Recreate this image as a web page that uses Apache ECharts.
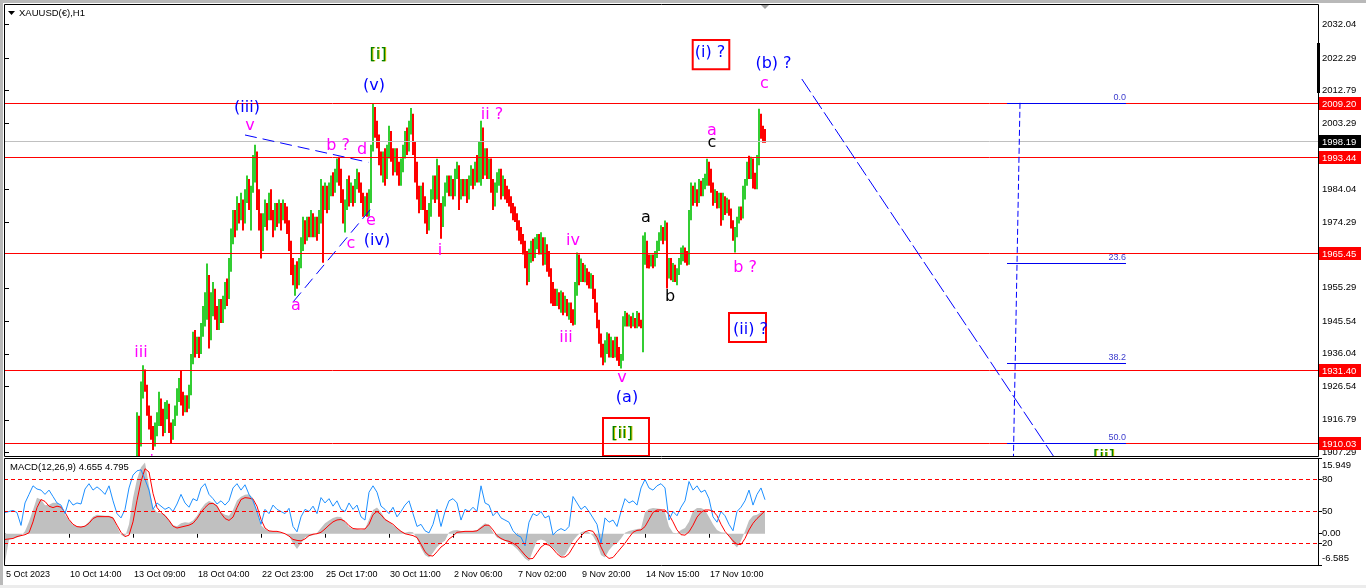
<!DOCTYPE html>
<html><head><meta charset="utf-8">
<script src="https://cdn.jsdelivr.net/npm/echarts@6/dist/echarts.min.js"></script>
<style>html,body{margin:0;padding:0;background:#fff;}#c{width:1366px;height:588px;}</style>
</head><body><div id="c"></div><script>
const symbolTitle = 'XAUUSD(€),H1';
const macdTitle = 'MACD(12,26,9) 4.655 4.795';
const timeLabels = ['5 Oct 2023','10 Oct 14:00','13 Oct 09:00','18 Oct 04:00','22 Oct 23:00','25 Oct 17:00','30 Oct 11:00','2 Nov 06:00','7 Nov 02:00','9 Nov 20:00','14 Nov 15:00','17 Nov 10:00'];
const timeLabelStep = 32;
const categoryCount = 657;
const firstBar = 66;
// [open, close, low, high]
const candles = [
[1897,1917,1895,1919],[1917,1910,1905,1918],[1910,1926,1909,1928],[1925,1930,1923,1932.7],[1930,1926,1925,1931.5],
[1926,1920,1918,1927],[1920,1916,1914,1921],[1916,1913,1911,1918],[1913,1910,1908,1915],[1910,1914,1909,1916],
[1914,1917,1912,1919],[1917,1922,1915,1925],[1922,1918,1915,1923],[1918,1914,1912,1920],[1914,1920,1913,1922],
[1920,1921,1917,1922.5],[1921,1915,1913,1921.5],[1915,1912,1910,1916],[1912,1916,1911,1917],[1916,1920,1915,1921],
[1920,1924,1918,1926],[1924,1927,1922,1929],[1927,1923,1921,1931],[1923,1920,1918,1925],[1920,1922,1919,1924],
[1922,1921,1919,1924],[1921,1925,1920,1927],[1925,1935,1924,1936],[1935,1941,1933,1942.5],[1941,1938,1935,1943],
[1938,1939,1936,1941],[1939,1937,1934.8,1941],[1937,1942,1936,1945],[1942,1948,1941,1950],[1948,1952,1944,1954],
[1952,1960,1946,1962.4],[1958,1941,1937.6,1959],[1941,1950,1940,1954],[1950,1953,1947,1957],[1953,1948,1946,1955],
[1948,1944,1943,1950],[1944,1950,1943,1952],[1950,1946,1945,1952],[1946,1951,1945,1953],[1951,1955,1949,1957],
[1955,1953,1950,1958],[1953,1962,1952,1964],[1962,1970,1960,1972.6],[1970,1976,1968,1978],[1976,1973,1970,1978],
[1973,1979,1972,1982],[1979,1976,1974,1980],[1976,1980,1975,1983],[1980,1975,1972,1981],[1975,1982,1974,1984],
[1982,1986,1980,1988],[1986,1980,1978,1987],[1980,1984,1972,1985],[1984,1992,1983,1994],[1992,1994,1986,1997],
[1994,1982,1978,1995],[1982,1975,1972,1984],[1975,1968,1963.8,1977],[1968,1975,1966,1977],[1975,1979,1973,1981],
[1979,1976,1972,1980],[1976,1981,1975,1983],[1981,1976,1975,1984],[1976,1973,1970,1978],[1973,1978,1972,1980],
[1978,1975,1973,1980],[1975,1979,1974,1981],[1979,1976,1972,1980],[1976,1978,1975,1981],[1978,1977,1974,1980],
[1977,1973,1971,1979],[1973,1968,1966,1975],[1968,1962,1959,1969],[1962,1958,1956,1964],[1958,1960,1953,1962],
[1960,1957,1955,1963],[1957,1962,1956,1964],[1962,1968,1961,1970],[1968,1973,1966,1976],[1973,1970,1968,1975],
[1970,1974,1969,1976],[1974,1971,1970,1976],[1971,1976,1970,1978],[1976,1972,1970,1977],[1972,1975,1970,1976],
[1975,1972,1969,1976],[1972,1976,1971,1978],[1976,1984,1974,1987],[1984,1979,1962.6,1985],[1979,1984,1978,1986],
[1984,1979,1977,1985],[1979,1984,1978,1986],[1984,1987,1982,1988],[1987,1984,1982,1989],[1984,1989,1983,1990],
[1989,1991,1986,1993],[1991,1988,1985,1993.5],[1988,1982,1980,1990],[1982,1976,1974,1984],[1976,1980,1971.4,1981],
[1980,1985,1978,1987],[1985,1981,1979,1988],[1981,1983,1980,1986],[1983,1981,1979,1985],[1981,1985,1980,1987],
[1985,1988,1984,1990],[1988,1984,1983,1989],[1984,1982,1980,1986],[1982,1978,1976,1983],[1978,1980,1976.3,1982],
[1980,1977,1976,1983],[1977,1982,1976,1984],[1982,1996,1980,1997],[1996,2006,1995,2008.9],[2006,2001,1999,2008],
[2001,1998,1996,2004],[1998,1993,1991,2000],[1993,1990,1988,1995],[1990,1993,1986,1995],[1993,1988,1985,1996],
[1988,1995,1987,1997],[1995,2000,1993,2002.5],[2000,1994,1992,2001],[1994,1990,1988,1996],[1990,1994,1989,1996],
[1994,1990,1988,1996],[1990,1987,1985,1992],[1987,1991,1985,1993],[1991,1995,1989,1997],[1995,1999,1993,2001],
[1999,1996,1994,2002],[1996,2002,1995,2004],[2002,2005,2000,2007.7],[2005,1996,1994,2006],[1996,1988,1986,1998],
[1988,1983,1981,1992],[1983,1979,1977,1985],[1979,1983,1978,1985],[1983,1980,1978,1986],[1980,1976,1974,1982],
[1976,1973,1971,1978],[1973,1978,1972,1980],[1978,1982,1976,1984],[1982,1986,1981,1988],[1986,1982,1980,1988],
[1982,1990,1981,1992.9],[1990,1978,1976,1991],[1978,1974,1969.6,1980],[1974,1980,1973,1982],[1980,1984,1979,1986],
[1984,1986,1983,1988],[1986,1983,1982,1988],[1983,1986,1982,1988],[1986,1983,1981,1987],[1983,1988,1982,1990],
[1988,1990,1987,1992],[1990,1982,1978,1991],[1982,1986,1981,1987],[1986,1984,1982,1987],[1984,1985,1982,1987],
[1985,1982,1980,1987],[1982,1986,1981,1988],[1986,1989,1985,1991],[1989,1986,1984,1990],[1986,1990,1985,1992],
[1990,1988,1986,1994],[1988,1996,1986,1998],[1996,2000,1985,2004],[2000,1990,1987,2002],[1990,1994,1988,1996],
[1994,1989,1987,1996],[1989,1992,1987,1993],[1992,1985,1983,1993],[1985,1980,1978,1987],[1980,1984,1979,1986],
[1984,1988,1983,1989],[1988,1989,1985,1990],[1989,1983,1981,1990],[1983,1986,1982,1988],[1986,1983,1981,1987],
[1983,1981,1980,1985],[1981,1980,1979,1984],[1980,1978,1977,1982],[1978,1976,1975,1980],[1976,1975,1974.5,1979],
[1975,1973,1972,1977],[1973,1970,1969,1975],[1970,1969,1968,1973],[1969,1966,1965,1971],[1966,1962,1961,1969],
[1962,1958,1956,1966],[1958,1964,1957,1966.7],[1964,1967,1962.6,1969],[1967,1965,1963,1969.6],[1965,1968,1964,1970],
[1968,1969,1966.5,1971],[1969,1966,1965,1971],[1966,1969,1965,1971.5],[1969,1963,1961.8,1970],[1963,1967,1962,1970],
[1967,1962,1960,1968],[1962,1959,1958.5,1966],[1959,1955,1950.7,1961],[1955,1952,1950,1957],[1952,1951,1950,1955],
[1951,1953,1950,1955],[1953,1950,1949,1954],[1950,1953,1948,1954.5],[1953,1950,1947.3,1954],[1950,1951,1948,1953],
[1951,1948,1947,1952],[1948,1950,1946,1951],[1950,1946,1945,1951],[1946,1945,1944.3,1949],[1945,1955,1944.5,1957],
[1955,1962,1953,1965.6],[1962,1958,1956,1965],[1958,1961,1957,1963.8],[1961,1958,1957,1962.5],[1958,1960,1956.9,1962],
[1960,1958,1956,1961],[1958,1956,1955.1,1960],[1956,1958,1955,1959.5],[1958,1953,1952,1959],[1953,1949,1948,1955],
[1949,1945,1943.5,1951],[1945,1941,1939,1946],[1941,1937,1935,1942],[1937,1934,1932.7,1939],[1934,1938,1933.5,1940],
[1938,1941,1936,1942.3],[1941,1937,1935,1942],[1937,1939,1935,1941],[1939,1936,1934.8,1940],[1936,1939,1935,1941],
[1939,1936,1934,1941],[1936,1933,1932.5,1938],[1933,1935,1931.8,1936],[1935,1945,1934,1947],[1945,1947,1944,1948.5],
[1947,1945,1944,1948],[1945,1946,1944,1947.5],[1946,1944.5,1943.5,1947],[1944.5,1946,1944,1948],[1946,1944,1943.5,1946.5],
[1944,1947,1943.5,1948.5],[1947,1945,1944,1948],[1945,1944,1943.5,1946],[1944,1966,1936.5,1970.5],[1966,1968,1962,1971.5],
[1968,1963,1961,1969],[1963,1962,1960.9,1965],[1962,1964,1961.5,1965],[1964,1962,1961,1965],[1962,1964.7,1961.5,1966],
[1964.7,1968,1964,1969],[1968,1970,1966,1971.5],[1970,1972,1969,1973.5],[1972,1970,1968,1973],[1970,1973,1969,1974.9],
[1973,1960,1955.1,1974.3],[1960,1963,1958,1964],[1963,1959,1957.5,1964],[1959,1961,1957,1962.5],[1961,1958,1957,1962],
[1958,1960,1956,1961],[1960,1963,1959,1964],[1963,1965,1962,1967],[1965,1966,1963,1967.6],[1966,1964,1962.6,1967],
[1964,1963,1961.8,1966],[1963,1976,1962,1978],[1976,1984,1975,1986],[1984,1981,1979.2,1985],[1981,1983,1980,1986],
[1983,1981,1979,1984],[1981,1985,1980,1987],[1985,1983,1982,1986.5],[1983,1986,1982,1987.3],[1986,1987,1984,1988.5],
[1987,1991,1985,1992.9],[1991,1986,1985,1992],[1986,1984.2,1983,1990],[1984.2,1981,1979.2,1986],[1981,1983,1980,1984],
[1983,1980,1978.4,1983.5],[1980,1982,1978.5,1983],[1982,1976,1973.4,1983],[1976,1981,1975,1983],[1981,1978,1976.5,1982],
[1978,1980,1977,1981.5],[1980,1977,1976.3,1981],[1977,1974,1972.6,1978.4],[1974,1971,1969,1975],[1971,1972,1965.6,1973],
[1972,1975,1970,1976],[1975,1978,1974,1979],[1978,1976,1975,1979],[1976,1983,1975.5,1985],[1983,1986,1981,1987],
[1986,1990,1985,1992],[1990,1988,1987,1993.8],[1988,1992,1987,1993.5],[1992,1986,1984.2,1993],[1986,1985,1984,1988.8],
[1985,1992,1984,1994],[1992,2005,1991,2007.5],[2005,2001,1998.7,2006],[2001,1999.5,1997.6,2002.5],[1999.5,1998.19,1997.6,2001.6]
];
const priceTicks = [2032.04,2022.29,2012.79,2003.29,1984.04,1974.29,1955.29,1945.54,1936.04,1926.54,1916.79,1907.29];
const levelLines = [2009.20,1993.44,1965.45,1931.40,1910.03];
const currentPrice = 1998.19;
const macdStep = 2;
const macdHist = [
-6.0,-1.2,-1.0,-0.8,-0.4,0.5,2.5,5.0,7.6,7.2,
6.0,6.1,6.5,6.5,5.8,4.0,2.9,1.9,1.6,1.5,
1.7,2.6,3.6,4.0,3.9,3.8,3.8,3.5,1.5,-0.2,
-0.7,2.0,7.5,11.5,14.0,15.0,10.0,5.5,4.5,4.3,
4.0,3.0,1.8,1.6,2.2,2.4,2.3,2.8,3.8,5.2,
6.3,6.9,6.6,6.0,4.5,4.0,3.8,5.0,7.0,7.8,
8.2,8.3,7.5,4.5,1.8,1.0,0.6,0.5,0.4,0.2,
0.1,-0.5,-2.0,-3.2,-2.0,-0.8,-0.5,-0.3,0.2,1.2,
2.2,2.8,3.3,3.6,3.5,2.5,1.4,1.0,1.0,0.8,
1.0,3.0,5.0,5.5,4.5,3.2,2.5,1.8,1.2,0.5,
0.2,0.4,0.3,-1.0,-3.0,-4.5,-5.0,-4.0,-2.8,-2.0,
-1.5,0.3,0.7,0.8,0.6,0.5,0.5,0.6,0.8,1.5,
2.2,1.8,0.3,-0.8,-1.2,-1.5,-2.0,-2.5,-3.2,-4.2,
-5.2,-5.8,-3.5,-1.5,-1.2,-1.5,-2.5,-3.0,-3.8,-4.8,
-4.5,-3.0,-1.5,-0.5,0.3,0.6,0.3,-0.5,-2.0,-4.5,
-5.0,-3.5,-2.5,-2.0,-1.0,0.2,0.6,0.8,1.0,1.1,
4.5,5.2,5.4,5.3,5.2,4.5,1.5,0.2,0.1,0.8,
1.2,2.5,4.8,5.4,5.4,5.0,3.5,2.0,0.8,0.3,
0.2,-0.5,-2.0,-2.9,-1.5,0.5,2.8,3.8,4.0,4.5,
4.66];
const macdSignal = [
-1.2,-1.1,-1.0,-0.6,-0.4,-0.2,0.2,2.5,5.5,7.2,
6.8,5.8,5.5,5.8,5.6,4.5,3.0,2.0,1.5,1.4,
1.6,2.2,3.2,3.6,3.6,3.6,3.6,3.3,1.8,0.3,
-0.6,-0.3,2.5,7.0,11.0,13.7,13.0,8.5,5.5,4.5,
3.8,2.8,1.6,1.2,1.4,1.6,1.8,2.2,3.2,4.5,
5.5,6.3,6.4,5.8,4.3,3.2,2.8,3.5,5.5,7.2,
7.6,7.5,7.3,5.8,3.0,1.2,0.6,0.5,0.5,0.3,
0.0,-0.5,-1.2,-1.4,-1.5,-1.1,-0.4,-0.1,0.0,0.3,
1.0,1.8,2.5,2.9,3.0,2.6,1.7,1.1,1.0,1.0,
1.0,2.0,4.0,4.7,4.0,3.0,2.5,2.0,1.2,0.5,
0.0,-0.2,-0.4,-0.8,-2.2,-3.8,-4.6,-4.7,-3.8,-2.8,
-2.2,-1.1,-0.5,0.3,0.4,0.5,0.5,0.5,0.6,1.2,
1.8,1.8,0.8,-0.4,-1.0,-1.4,-1.6,-2.0,-2.5,-3.5,
-4.5,-5.3,-5.2,-4.0,-2.8,-2.2,-2.4,-3.2,-4.2,-4.9,
-4.9,-4.2,-2.8,-1.5,-0.5,0.4,0.7,0.5,-0.8,-2.8,
-4.5,-5.2,-5.0,-4.0,-3.0,-2.0,-0.8,0.3,0.7,0.8,
1.5,3.0,4.5,5.0,5.0,5.0,4.0,2.5,0.8,-0.2,
-0.3,0.4,1.8,3.5,4.5,5.0,5.0,4.8,3.8,2.0,
0.5,-0.5,-1.5,-2.2,-2.3,-1.0,0.8,2.2,3.2,4.0,
4.8];
const oscLine = [
49,50,51,49,37,58,66,74,71,70,
66,70,64,58,56,48,61,56,58,57,
71,76,70,73,70,66,74,60,48,44,
52,72,84,88,89,80,70,52,58,55,
52,54,50,57,66,58,54,62,60,72,
76,66,62,57,60,56,60,72,76,70,
75,66,60,50,38,52,48,56,52,50,
48,53,36,31,45,52,50,55,48,63,
58,62,55,60,52,50,58,52,56,45,
42,68,74,68,55,52,48,54,45,50,
56,60,48,36,38,32,30,38,52,36,
50,60,62,58,42,52,50,54,50,74,
58,56,46,50,44,42,40,32,28,26,
18,40,48,46,50,44,46,28,32,34,
32,36,64,58,52,55,50,44,38,20,
44,40,42,36,50,62,58,60,56,72,
80,72,70,74,76,72,42,50,46,54,
60,78,70,74,68,70,62,45,40,50,
46,38,32,50,54,60,70,56,66,72,
61];
const oscLevels = [80,50,20];
const macdTicks = [15.949,0,-6.585];
const fibHigh = 2009.20, fibLow = 1810.86;
const fibLevels = [0,23.6,38.2,50.0];
const fibSpan = [501,560.5];
const fibAnchor = [[507.5,2009.20],[501.2,1810.86]];
const trendLines = [
  [[120,1999.83],[181.65,1991.87]],
  [[144.15,1951.24],[184.15,1979.13]],
  [[398.4,2016.15],[530,1901.17]]
];
// [text, bar index, price, colour key]
const annotations = [
 ['[i]',186.5,2023.15,'green'],['(v)',184.5,2014.11,'blue'],['(iii)',121,2007.7,'blue'],['v',122.5,2002.6,'magenta'],
 ['b ?',166.5,1996.6,'magenta'],['d',178.5,1995.5,'magenta'],['e',183,1974.8,'magenta'],['(iv)',186,1968.9,'blue'],
 ['c',173,1968.1,'magenta'],['a',145.5,1950.0,'magenta'],['i',217.5,1966.0,'magenta'],['ii ?',243.5,2005.66,'magenta'],
 ['iv',284,1968.9,'magenta'],['iii',280.5,1940.7,'magenta'],['v',308.5,1929.0,'magenta'],['(a)',311,1923.17,'blue'],
 ['[ii]',308.5,1912.7,'green'],['a',320.5,1975.6,'black'],['b',332.5,1952.6,'black'],['a',353.5,2001.0,'magenta'],
 ['c',353.5,1997.5,'black'],['b ?',370,1961.06,'magenta'],['(ii) ?',372.75,1943.0,'blue'],['(i) ?',352.5,2023.73,'blue'],
 ['(b) ?',384.25,2020.5,'blue'],['c',379.75,2014.8,'magenta'],['iii',68,1936.3,'magenta'],['iv',75.75,1904.5,'magenta'],
 ['[ii]',549.4,1906.0,'green']
];
// [bar1, price1, bar2, price2]
const boxes = [[343.85,2027.52,362.15,2018.98],[362,1947.94,380.5,1939.49],[299,1917.34,322,1906.26]];

const annColors = {green:'#008000', blue:'#0000ff', magenta:'#ff00ff', black:'#000000'};
const AX_FONT = 'Liberation Sans';
const GRID_LEFT = 4, GRID_W = categoryCount * 2;
const isLabelIdx = (idx) => idx % timeLabelStep === 0 && idx / timeLabelStep < timeLabels.length;
const cats = Array.from({length: categoryCount}, (_, i) => String(i));

const chart = echarts.init(document.getElementById('c'), null, {renderer:'canvas'});
const option = {
  animation:false,
  backgroundColor:'#ffffff',
  textStyle:{fontFamily:AX_FONT},
  grid:[
    {left:GRID_LEFT, top:4, width:GRID_W, height:452, show:false},
    {left:GRID_LEFT, top:458, width:GRID_W, height:107, show:false}
  ],
  xAxis:[
    {type:'value', gridIndex:0, min:-0.5, max:categoryCount-0.5, show:false},
    {type:'category', gridIndex:1, data:cats, boundaryGap:true,
     axisLine:{show:false}, splitLine:{show:false},
     axisTick:{show:true, alignWithLabel:true, interval:(i)=>isLabelIdx(i), length:4, lineStyle:{color:'#000'}},
     axisLabel:{show:true, interval:(i)=>isLabelIdx(i), formatter:(v,i)=> isLabelIdx(i) ? timeLabels[i/timeLabelStep] : '',
       align:'left', color:'#000', fontSize:9, fontFamily:AX_FONT, margin:5, padding:[0,0,0,1]}}
  ],
  yAxis:[
    {type:'value', gridIndex:0, min:1906.26, max:2038.01, position:'right', axisLine:{show:false}, splitLine:{show:false},
     axisTick:{show:true, customValues:priceTicks, length:4, lineStyle:{color:'#000'}},
     axisLabel:{customValues:priceTicks, formatter:(v)=>v.toFixed(2), color:'#000', fontSize:9.5, fontFamily:AX_FONT, margin:4}},
    {type:'value', gridIndex:1, min:-6.585, max:15.949, position:'right', axisLine:{show:false}, splitLine:{show:false},
     axisTick:{show:true, customValues:macdTicks, length:4, lineStyle:{color:'#000'}},
     axisLabel:{customValues:macdTicks, color:'#000', fontSize:9.5, fontFamily:AX_FONT, margin:4,
       formatter:(v)=>{ if (Math.abs(v-macdTicks[0])<1e-6) return '{t|'+v.toFixed(3)+'}';
                        if (Math.abs(v-macdTicks[2])<1e-6) return '{b|'+v.toFixed(3)+'}';
                        return v.toFixed(2); },
       rich:{t:{padding:[14,0,0,0], fontSize:9.5, fontFamily:AX_FONT, color:'#000'},
             b:{padding:[0,0,14,0], fontSize:9.5, fontFamily:AX_FONT, color:'#000'}}}},
    {type:'value', gridIndex:1, min:0, max:100, position:'right', axisLine:{show:false}, splitLine:{show:false},
     axisTick:{show:true, customValues:oscLevels, length:4, lineStyle:{color:'#000'}},
     axisLabel:{customValues:oscLevels, formatter:(v)=>String(v), color:'#000', fontSize:9.5, fontFamily:AX_FONT, margin:4}}
  ],
  graphic:[
    {type:'rect', silent:true, shape:{x:0,y:0,width:1366,height:3}, style:{fill:'#b9b9b9'}},
    {type:'rect', silent:true, shape:{x:0,y:0,width:3,height:588}, style:{fill:'#b9b9b9'}},
    {type:'rect', silent:true, shape:{x:0,y:585,width:1366,height:3}, style:{fill:'#ececec'}},
    {type:'rect', silent:true, z:10, shape:{x:GRID_LEFT+0.5, y:4.5, width:GRID_W, height:452}, style:{fill:'none', stroke:'#000', lineWidth:1}},
    {type:'rect', silent:true, z:10, shape:{x:GRID_LEFT+0.5, y:458.5, width:GRID_W, height:107}, style:{fill:'none', stroke:'#000', lineWidth:1}},
    {type:'polygon', silent:true, shape:{points:[[8,11],[15,11],[11.5,15]]}, style:{fill:'#000'}},
    {type:'text', silent:true, x:19, y:13, style:{text:symbolTitle, fill:'#000', font:'9.5px "Liberation Sans"', textVerticalAlign:'middle'}},
    {type:'text', silent:true, x:10, y:467, style:{text:macdTitle, fill:'#000', font:'9.5px "Liberation Sans"', textVerticalAlign:'middle'}},
    {type:'polygon', silent:true, shape:{points:[[760,4],[770,4],[765,9]]}, style:{fill:'#a0a0a0'}},
    {type:'rect', silent:true, z:11, shape:{x:GRID_LEFT+GRID_W-1, y:43, width:3, height:50}, style:{fill:'#000'}}
  ],
  series:[
    {type:'custom', name:'price', xAxisIndex:0, yAxisIndex:0, clip:true, z:2,
     data:candles.map((d,k)=>[firstBar+k, d[0], d[1], d[2], d[3]]),
     encode:{x:0, y:[3,4]},
     renderItem:(params, api)=>{
       const i=api.value(0), o=api.value(1), c=api.value(2), l=api.value(3), h=api.value(4);
       const pH=api.coord([i,h]), pL=api.coord([i,l]);
       const w=api.size([1,0])[0];
       return {type:'rect', shape:{x:pH[0]-w/2, y:pH[1], width:w, height:Math.max(1,pL[1]-pH[1])},
               style:{fill: c>=o ? '#32cd32' : '#ff0000'}};
     }},
    {type:'custom', name:'levels', xAxisIndex:0, yAxisIndex:0, clip:false, z:3,
     data:[...levelLines.map(v=>[0,v,0]), [0,currentPrice,1]],
     encode:{x:0, y:1},
     renderItem:(params, api)=>{
       const cs=params.coordSys;
       const v=api.value(1), kind=api.value(2);
       const yr=Math.round(api.coord([0,v])[1]);
       const right=cs.x+cs.width;
       return {type:'group', children:[
         {type:'line', shape:{x1:cs.x, y1:yr+0.5, x2:right, y2:yr+0.5}, style:{stroke: kind===1?'#c0c0c0':'#ff0000', lineWidth:1}},
         {type:'rect', shape:{x:right+1, y:yr-6, width:42, height:13}, style:{fill: kind===1?'#000000':'#ff0000'}},
         {type:'text', x:right+4, y:yr+1, style:{text:v.toFixed(2), fill:'#ffffff', font:'9.5px "Liberation Sans"', textVerticalAlign:'middle'}}
       ]};
     }},
    {type:'custom', name:'fib', xAxisIndex:0, yAxisIndex:0, clip:true, z:3,
     data:fibLevels.map(l=>[fibSpan[1], fibHigh-(fibHigh-fibLow)*l/100, l]),
     encode:{x:0, y:1},
     renderItem:(params, api)=>{
       const p=api.value(1), l=api.value(2);
       const a=api.coord([fibSpan[0],p]), b=api.coord([fibSpan[1],p]);
       const yr=Math.round(a[1])+0.5;
       return {type:'group', children:[
         {type:'line', shape:{x1:a[0], y1:yr, x2:b[0], y2:yr}, style:{stroke:'#0000ee', lineWidth:1}},
         {type:'text', x:b[0], y:yr-1, style:{text:l.toFixed(1), fill:'#3a3acc', font:'9px "Liberation Sans"', textAlign:'right', textVerticalAlign:'bottom'}}
       ]};
     }},
    {type:'line', name:'fibTrend', xAxisIndex:0, yAxisIndex:0, data:fibAnchor, symbol:'none', z:4, silent:true,
     lineStyle:{color:'#0000ff', width:1, type:[6,3]}},
    ...trendLines.map((pts,k)=>({type:'line', name:'trend'+k, xAxisIndex:0, yAxisIndex:0, data:pts, symbol:'none', z:4, silent:true,
       lineStyle:{color:'#0000ff', width:1, type: k===2 ? [16,4] : [12,6]}})),
    {type:'custom', name:'boxes', xAxisIndex:0, yAxisIndex:0, clip:true, z:5,
     data:boxes.map(b=>[b[0],b[1],b[2],b[3]]),
     encode:{x:[0,2], y:[1,3]},
     renderItem:(params, api)=>{
       const p1=api.coord([api.value(0),api.value(1)]), p2=api.coord([api.value(2),api.value(3)]);
       return {type:'rect', shape:{x:p1[0], y:p1[1], width:p2[0]-p1[0], height:p2[1]-p1[1]},
               style:{fill:'none', stroke:'#ff0000', lineWidth:2}};
     }},
    {type:'custom', name:'labels', xAxisIndex:0, yAxisIndex:0, clip:true, z:6,
     data:annotations.map(a=>[a[1],a[2]]),
     encode:{x:0, y:1},
     renderItem:(params, api)=>{
       const a=annotations[params.dataIndex];
       const p=api.coord([api.value(0),api.value(1)]);
       const font='16px "DejaVu Sans"';
       const ch=[];
       if (a[3]==='green') ch.push({type:'text', x:p[0]+1, y:p[1], style:{text:a[0], fill:'#d0c400', font, textAlign:'center', textVerticalAlign:'middle'}});
       ch.push({type:'text', x:p[0], y:p[1], style:{text:a[0], fill:annColors[a[3]], font, textAlign:'center', textVerticalAlign:'middle'}});
       return {type:'group', children:ch};
     }},
    {type:'line', name:'MACD', xAxisIndex:1, yAxisIndex:1, symbol:'none', z:1, silent:true,
     data:macdHist.map((v,k)=>[k*macdStep, v]),
     lineStyle:{opacity:0, width:0}, areaStyle:{color:'#c0c0c0', opacity:1}},
    {type:'line', name:'Signal', xAxisIndex:1, yAxisIndex:1, symbol:'none', z:3, silent:true,
     data:macdSignal.map((v,k)=>[k*macdStep, v]),
     lineStyle:{color:'#ff0000', width:1}},
    {type:'line', name:'Osc', xAxisIndex:1, yAxisIndex:2, symbol:'none', z:4, silent:true,
     data:oscLine.map((v,k)=>[k*macdStep, v]),
     lineStyle:{color:'#1e90ff', width:1},
     markLine:{silent:true, symbol:['none','none'], label:{show:false}, animation:false,
       lineStyle:{color:'#ff0000', width:1, type:[4,3]},
       data:oscLevels.map(v=>({yAxis:v}))}}
  ]
};
chart.setOption(option);
</script></body></html>
